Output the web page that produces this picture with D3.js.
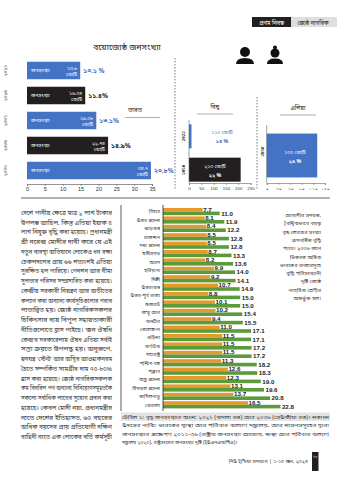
<!DOCTYPE html>
<html>
<head>
<meta charset="utf-8">
<script src="https://cdn.jsdelivr.net/npm/d3@7"></script>
<style>
html,body{margin:0;padding:0;background:#fff;}
svg{display:block;font-family:"Noto Sans Bengali","Noto Sans",sans-serif;}
.num{font-family:"Liberation Sans Narrow","Liberation Sans",Arial,sans-serif;font-weight:bold;}
</style>
</head>
<body>
<svg id="c" width="346" height="480"></svg>
<script>
// ---------- DATA ----------
const indiaYears = ["২০২১", "২০২৬", "২০৩১", "২০৩৬", "২০৫০"];
const indiaValues = [14.9, 16.3, 19.4, 22.7, 34.7];
const indiaCrore = ["১৩.৮", "১৬.৩৪", "১৯.৩৮", "২২.৭৪", "৩৪.৭"];
const indiaPct = ["১০.১ %", "১১.৪%", "১৩.১%", "১৪.৯%", "২০.৮%"];
const indiaTicks = [0, 5, 10, 15, 20, 25, 30, 35];

const worldYears = ["2022", "2050"];
const worldValues = [10, 210];
const worldCrore = ["১১০ কোটি", "২১০ কোটি"];
const worldPct = ["১৪ %", "২২ %"];
const worldTicks = [0, 50, 100, 150, 200, 250];

const asiaYears = ["2050"];
const asiaValues = [130];
const asiaCrore = ["১৩০ কোটি"];
const asiaPct = ["২৫ %"];
const asiaTicks = [0, 30, 60, 90, 120, 150];
const asiaTickLabels = ["০", "৩০", "৬০", "৯০", "১২০", "১৫০"];

const states = ["বিহার", "উত্তর প্রদেশ", "ঝাড়খণ্ড", "রাজস্থান", "মধ্য প্রদেশ", "ছত্তীসগড়", "অসম", "হরিয়ানা", "দিল্লী", "উত্তরাখণ্ড", "উত্তর-পূর্ব রাজ্য", "গুজরাট", "জম্মু আর", "কাশ্মীর", "তেলেঙ্গানা", "ওড়িশা", "কর্ণাটক", "মহারাষ্ট্র", "পশ্চিম বঙ্গ", "পঞ্জাব", "অন্ধ্র প্রদেশ", "হিমাচল প্রদেশ", "তামিলনাড়ু", "কেরালা"];
const share2021 = [7.7, 8.1, 8.4, 8.5, 8.5, 8.7, 8.2, 9.9, 9.2, 10.7, 8.8, 10.1, 10.2, 9.4, 11.0, 11.5, 11.5, 11.5, 11.3, 12.6, 12.3, 13.1, 13.7, 16.5];
const share2036 = [11.0, 11.9, 12.2, 12.8, 12.8, 13.3, 13.6, 14.0, 14.1, 14.9, 15.0, 15.0, 15.4, 15.5, 17.1, 17.1, 17.2, 17.2, 18.2, 18.3, 19.0, 19.6, 20.8, 22.8];

const bodyLines = [
 "দেশে পানীয় ক্ষেত্রে মাত্র ১ লাখ টাকার",
 "উপলব্ধ আছিল, কিন্তু এতিয়া ইয়াক ৫",
 "লাখ নিযুক্ত বৃদ্ধি করা হয়েছে। প্রধানমন্ত্রী",
 "শ্রী নরেন্দ্র মোদীর দাবী করে যে এই",
 "নতুন ব্যবস্থা অভিযানে লোকেও ধন রক্ষা",
 "চেকলদলের প্রায় ৬৬ শতাংশই এতিয়া",
 "সুরক্ষিত হল পারিয়ে। পেনশন আর বীমা",
 "সুলভার পরিসর সম্প্রসারিত করা হয়েছে।",
 "কেন্দ্রীয় সরকারী নিয়ন্ত্রণ আর অতীতের",
 "কল্যাণ করা অন্যান্য কার্যসূচিগুলোর পরাব",
 "লাভান্বিত হয়। জ্যেষ্ঠ নাগরিকসকলর",
 "চিকিৎসার ব্যয় বিপুল সহায়তাকারী",
 "নীতিগুলোতে হ্রাস পাইছে। 'জন ঔষধি",
 "কেন্দ্র'র সরকারেলাম ঔষধ এতিয়া সর্বাই",
 "সস্তা ক্রয়তে উপলব্ধ হয়। অনুরূপে,",
 "হৃদযন্ত্র 'স্টেন্ট' আর অস্থির আওহাকনরম",
 "চৈতে সম্পর্কিত সামগ্রীর দাম ৭০-৮০%",
 "হ্রাস করা হয়েছে। জ্যেষ্ঠ নাগরিকসকলক",
 "কম বিবরিল পথ অন্যান্য বিনিয়োগসমূহতকৈ",
 "সকলো সর্বাধিক লাভের সুযোগ প্রদান করা",
 "হয়েছে। কেবল মোদী নয়া, প্রধানমন্ত্রীর",
 "নাতে দেশের ইতিহাসত, ৬০ বছরের",
 "অধিক বয়সের প্রায় প্রতিযোগী দক্ষিণ",
 "বাহিনী নাতে এক লোকের বর্তি কর্মসূচী"
];
const sideLines = ["আগামীর সময়ত,", "বৈশ্বিকভাবে বয়স্ক", "বৃদ্ধ লোকের সংখ্যা", "ক্রমবর্ধিত বৃদ্ধি", "পাবে। ২০৩৬ জনে", "ভিতরত অধিক", "ভারতের রাজ্যসমূহে", "বৃদ্ধি পরিসংখ্যানী", "দৃষ্টি জ্যেষ্ঠ", "নাগরিক শ্রেণীর", "অন্তর্ভুক্ত হল।"];
const captionLines = [
 "টেবিল ১: বৃদ্ধ জনসংখ্যার অংশ: ২০২১ (কমলা রঙ) আর ২০৩৬ (সেউজীয়া রঙ)। শতাংশ",
 "উৎসের নাকি: ভারতের স্বাস্থ্য আর পরিবার কল্যাণ মন্ত্রালয়, আর শাসনসমূহের দ্বারা",
 "জনসংখ্যার প্রক্ষেপণ ২০১১-৩৬ (রাষ্ট্রীয় জনসংখ্যা আয়োগ, স্বাস্থ্য আর পরিবার কল্যাণ",
 "মন্ত্রালয় ২০২০), রাষ্ট্রসংঘের জনসংখ্যা দৃষ্টি (ইউএনএফপিএ)।"
];

// ---------- STYLE ----------
const BLUE = "#4472c4", BLACK = "#231f20", ORANGE = "#e69a2e", GREEN = "#5c9b3b", TXT = "#333";
const svg = d3.select("#c");

// header tags
svg.append("rect").attr("x", 252).attr("y", 17).attr("width", 39).attr("height", 10).attr("fill", BLACK);
svg.append("rect").attr("x", 291).attr("y", 17).attr("width", 46).attr("height", 10).attr("fill", "#dedede");
svg.append("text").attr("x", 271.5).attr("y", 24.5).attr("text-anchor", "middle").attr("font-size", 5.6).attr("fill", "#fff").text("প্রথম নিবন্ধ");
svg.append("text").attr("x", 313).attr("y", 24.5).attr("text-anchor", "middle").attr("font-size", 5.6).attr("fill", "#222").text("জ্যেষ্ঠ নাগরিক");

// title
svg.append("text").attr("x", 127).attr("y", 50).attr("text-anchor", "middle").attr("font-size", 8.5).attr("fill", "#222").text("বয়োজ্যেষ্ঠ জনসংখ্যা");

// elderly icons
const icons = svg.append("g").attr("fill", "#111");
icons.append("circle").attr("cx", 245).attr("cy", 52).attr("r", 5);
icons.append("path").attr("d", "M236,64 Q236,58 245,58 Q254,58 254,64 Z");
icons.append("circle").attr("cx", 275).attr("cy", 53).attr("r", 4.5);
icons.append("circle").attr("cx", 275).attr("cy", 47.5).attr("r", 2);
icons.append("path").attr("d", "M267,64 Q267,58.5 275,58.5 Q283,58.5 283,64 Z");

// ---------- INDIA CHART ----------
const xI = d3.scaleLinear().domain([0, 35]).range([27, 152]);
const yI = d3.scaleBand().domain(indiaYears).range([58, 183]).paddingInner(0.3).paddingOuter(0.15);
const gI = svg.append("g");
gI.selectAll("rect.bar").data(indiaYears).join("rect").attr("class", "bar")
  .attr("x", xI(0)).attr("y", d => yI(d))
  .attr("width", (d, i) => xI(indiaValues[i]) - xI(0)).attr("height", yI.bandwidth())
  .attr("fill", (d, i) => i % 2 ? BLACK : BLUE);
gI.selectAll("text.yr").data(indiaYears).join("text").attr("class", "yr")
  .attr("transform", d => `translate(7,${yI(d) + yI.bandwidth() / 2}) rotate(-90)`)
  .attr("text-anchor", "middle").attr("font-size", 4.6).attr("fill", TXT).text(d => d);
gI.selectAll("text.in").data(indiaYears).join("text").attr("class", "in")
  .attr("x", xI(0) + 4).attr("y", d => yI(d) + yI.bandwidth() / 2 + 1.8)
  .attr("font-size", 5).attr("fill", "#fff").text("জনসংখ্যা");
indiaYears.forEach((d, i) => {
  const xe = xI(indiaValues[i]);
  const yc = yI(d) + yI.bandwidth() / 2;
  gI.append("text").attr("x", xe - 3).attr("y", yc - 1).attr("text-anchor", "end").attr("font-size", 5).attr("fill", "#fff").text(indiaCrore[i]);
  gI.append("text").attr("x", xe - 3).attr("y", yc + 5).attr("text-anchor", "end").attr("font-size", 5).attr("fill", "#fff").text("কোটি");
  gI.append("text").attr("x", xe + 3).attr("y", yc + 2.5).attr("font-size", 6.5).attr("font-weight", "bold")
    .attr("fill", i % 2 ? BLACK : BLUE).text(indiaPct[i]);
});
const axI = gI.append("g").attr("transform", "translate(0,184)")
  .call(d3.axisBottom(xI).tickValues(indiaTicks).tickSize(2).tickPadding(1.5));
axI.select(".domain").attr("stroke", "#666").attr("stroke-width", 0.7);
axI.selectAll(".tick line").attr("stroke", "#666").attr("stroke-width", 0.6);
axI.selectAll("text").attr("font-size", 5.6).attr("fill", TXT).attr("font-family", "Liberation Sans, Arial, sans-serif");
svg.append("text").attr("x", 135).attr("y", 112).attr("text-anchor", "middle").attr("font-size", 6.2).attr("fill", "#222").text("ভারত");
svg.append("line").attr("x1", 125).attr("x2", 160).attr("y1", 117.5).attr("y2", 117.5).attr("stroke", "#999").attr("stroke-width", 0.8);

// dashed dividers
svg.append("line").attr("x1", 175).attr("x2", 175).attr("y1", 58).attr("y2", 190).attr("stroke", "#444").attr("stroke-width", 0.7).attr("stroke-dasharray", "1.5,1.5");
svg.append("line").attr("x1", 257).attr("x2", 257).attr("y1", 97).attr("y2", 190).attr("stroke", "#444").attr("stroke-width", 0.7).attr("stroke-dasharray", "1.5,1.5");

// ---------- WORLD CHART ----------
const xW = d3.scaleLinear().domain([0, 250]).range([189, 250.5]);
const yW = d3.scaleBand().domain(worldYears).range([121, 185]).paddingInner(0.28).paddingOuter(0.1);
const gW = svg.append("g");
gW.selectAll("rect").data(worldYears).join("rect")
  .attr("x", xW(0)).attr("y", d => yW(d))
  .attr("width", (d, i) => xW(worldValues[i]) - xW(0)).attr("height", yW.bandwidth())
  .attr("fill", (d, i) => i ? BLACK : BLUE);
worldYears.forEach((d, i) => {
  const yc = yW(d) + yW.bandwidth() / 2;
  const col = i ? "#fff" : BLUE;
  const cx = i ? xW(0) + 26 : xW(0) + 33;
  gW.append("text").attr("x", cx).attr("y", yc - 2).attr("text-anchor", "middle").attr("font-size", 5).attr("fill", col).text(worldCrore[i]);
  gW.append("text").attr("x", cx).attr("y", yc + 7).attr("text-anchor", "middle").attr("font-size", 5.2).attr("font-weight", "bold").attr("fill", col).text(worldPct[i]);
  gW.append("text").attr("transform", `translate(185,${yc}) rotate(-90)`).attr("text-anchor", "middle")
    .attr("font-size", 5).attr("font-weight", "bold").attr("fill", "#222").attr("font-family", "Liberation Serif, serif").text(d);
});
svg.append("line").attr("x1", xW(0)).attr("x2", xW(0)).attr("y1", 120).attr("y2", 183).attr("stroke", "#666").attr("stroke-width", 0.6);
const axW = gW.append("g").attr("transform", "translate(0,183)")
  .call(d3.axisBottom(xW).tickValues(worldTicks).tickSize(2).tickPadding(1.5));
axW.select(".domain").attr("stroke", "#666").attr("stroke-width", 0.6);
axW.selectAll(".tick line").attr("stroke", "#666").attr("stroke-width", 0.5);
axW.selectAll("text").attr("font-size", 4.4).attr("fill", TXT).attr("font-family", "Liberation Sans, Arial, sans-serif");
svg.append("text").attr("x", 215).attr("y", 109).attr("text-anchor", "middle").attr("font-size", 5.8).attr("fill", "#222").text("বিশ্ব");
svg.append("line").attr("x1", 197).attr("x2", 233).attr("y1", 114).attr("y2", 114).attr("stroke", "#999").attr("stroke-width", 0.8);

// ---------- ASIA CHART ----------
const xA = d3.scaleLinear().domain([0, 150]).range([266.7, 325]);
const yA = d3.scaleBand().domain(asiaYears).range([127, 184]).paddingInner(0.2).paddingOuter(0.12);
const gA = svg.append("g");
gA.selectAll("rect").data(asiaYears).join("rect")
  .attr("x", xA(0)).attr("y", d => yA(d))
  .attr("width", (d, i) => xA(asiaValues[i]) - xA(0)).attr("height", yA.bandwidth())
  .attr("fill", BLUE);
asiaYears.forEach((d, i) => {
  const yc = yA(d) + yA.bandwidth() / 2;
  const cx = (xA(0) + xA(asiaValues[i])) / 2 + 3;
  gA.append("text").attr("x", cx).attr("y", yc - 2).attr("text-anchor", "middle").attr("font-size", 5).attr("fill", "#fff").text(asiaCrore[i]);
  gA.append("text").attr("x", cx).attr("y", yc + 7).attr("text-anchor", "middle").attr("font-size", 5.2).attr("font-weight", "bold").attr("fill", "#fff").text(asiaPct[i]);
  gA.append("text").attr("transform", `translate(263.5,${yc - 4}) rotate(-90)`).attr("text-anchor", "middle")
    .attr("font-size", 5).attr("font-weight", "bold").attr("fill", "#222").attr("font-family", "Liberation Serif, serif").text(d);
});
svg.append("line").attr("x1", xA(0)).attr("x2", xA(0)).attr("y1", 125).attr("y2", 183).attr("stroke", "#666").attr("stroke-width", 0.6);
const axA = gA.append("g").attr("transform", "translate(0,183)")
  .call(d3.axisBottom(xA).tickValues(asiaTicks).tickFormat((d, i) => asiaTickLabels[i]).tickSize(2).tickPadding(1.5));
axA.select(".domain").attr("stroke", "#666").attr("stroke-width", 0.6);
axA.selectAll(".tick line").attr("stroke", "#666").attr("stroke-width", 0.5);
axA.selectAll("text").attr("font-size", 4.4).attr("fill", TXT);
svg.append("text").attr("x", 298).attr("y", 110).attr("text-anchor", "middle").attr("font-size", 5.8).attr("fill", "#222").text("এশিয়া");
svg.append("line").attr("x1", 280).attr("x2", 316).attr("y1", 115).attr("y2", 115).attr("stroke", "#999").attr("stroke-width", 0.8);

// separator
svg.append("line").attr("x1", 21).attr("x2", 330).attr("y1", 198).attr("y2", 198).attr("stroke", "#9a9a9a").attr("stroke-width", 1.4);

// ---------- BODY TEXT ----------
const gT = svg.append("g").attr("font-size", 6).attr("fill", TXT);
bodyLines.forEach((t, i) => {
  gT.append("text").attr("x", 21).attr("y", 215 + i * 9.74).attr("textLength", 91).attr("lengthAdjust", "spacingAndGlyphs").text(t);
});
const gS = svg.append("g").attr("font-size", 5.4).attr("fill", TXT).attr("text-anchor", "end");
sideLines.forEach((t, i) => gS.append("text").attr("x", 321).attr("y", 217 + i * 8.3).text(t));

// ---------- STATES CHART ----------
const xS = d3.scaleLinear().domain([0, 25]).range([163, 291.75]);
const yS = d3.scaleBand().domain(states).range([207.3, 207.3 + 24 * 8.4]);
const gSt = svg.append("g");
svg.append("line").attr("x1", 121).attr("x2", 121).attr("y1", 205).attr("y2", 411).attr("stroke", "#333").attr("stroke-width", 0.8);
gSt.selectAll("rect.o").data(states).join("rect").attr("class", "o")
  .attr("x", xS(0)).attr("y", d => yS(d) + 0.7).attr("width", (d, i) => xS(share2021[i]) - xS(0)).attr("height", 3.6).attr("fill", ORANGE);
gSt.selectAll("rect.g").data(states).join("rect").attr("class", "g")
  .attr("x", xS(0)).attr("y", d => yS(d) + 4.3).attr("width", (d, i) => xS(share2036[i]) - xS(0)).attr("height", 3.6).attr("fill", GREEN);
gSt.selectAll("text.lab").data(states).join("text").attr("class", "lab")
  .attr("x", 160).attr("y", d => yS(d) + 6).attr("text-anchor", "end").attr("font-size", 5).attr("fill", TXT).text(d => d);
gSt.selectAll("text.v1").data(states).join("text").attr("class", "v1 num")
  .attr("x", (d, i) => xS(share2021[i]) + 0.5).attr("y", d => yS(d) + 4.2)
  .attr("font-size", 6.2).attr("fill", "#222").text((d, i) => share2021[i].toFixed(1));
gSt.selectAll("text.v2").data(states).join("text").attr("class", "v2 num")
  .attr("x", (d, i) => xS(share2036[i]) + 1.5).attr("y", d => yS(d) + 8.2)
  .attr("font-size", 6.2).attr("fill", "#222").text((d, i) => share2036[i].toFixed(1));
svg.append("line").attr("x1", xS(0)).attr("x2", xS(0)).attr("y1", 205).attr("y2", 411).attr("stroke", "#222").attr("stroke-width", 0.8);

// caption
svg.append("rect").attr("x", 121).attr("y", 412.5).attr("width", 209).attr("height", 8.5).attr("fill", "#e4e4e4");
const gC = svg.append("g").attr("font-size", 5).attr("fill", TXT);
captionLines.forEach((t, i) => {
  const el = gC.append("text").attr("x", 122).attr("y", 419 + i * 8.4).text(t);
  if (i < 3) el.attr("textLength", 207).attr("lengthAdjust", "spacingAndGlyphs");
});

// footer
svg.append("text").attr("x", 308).attr("y", 462.5).attr("text-anchor", "end").attr("font-size", 5.2).attr("fill", "#333").text("নিউ ইন্ডিয়া সমাচার  |  ১-১৫ জুন, ২০২৪");
svg.append("rect").attr("x", 312).attr("y", 452).attr("width", 6.5).attr("height", 19).attr("fill", BLACK);
svg.append("text").attr("x", 315.2).attr("y", 458).attr("text-anchor", "middle").attr("font-size", 3.5).attr("fill", "#fff").text("১৭");
</script>
</body>
</html>
